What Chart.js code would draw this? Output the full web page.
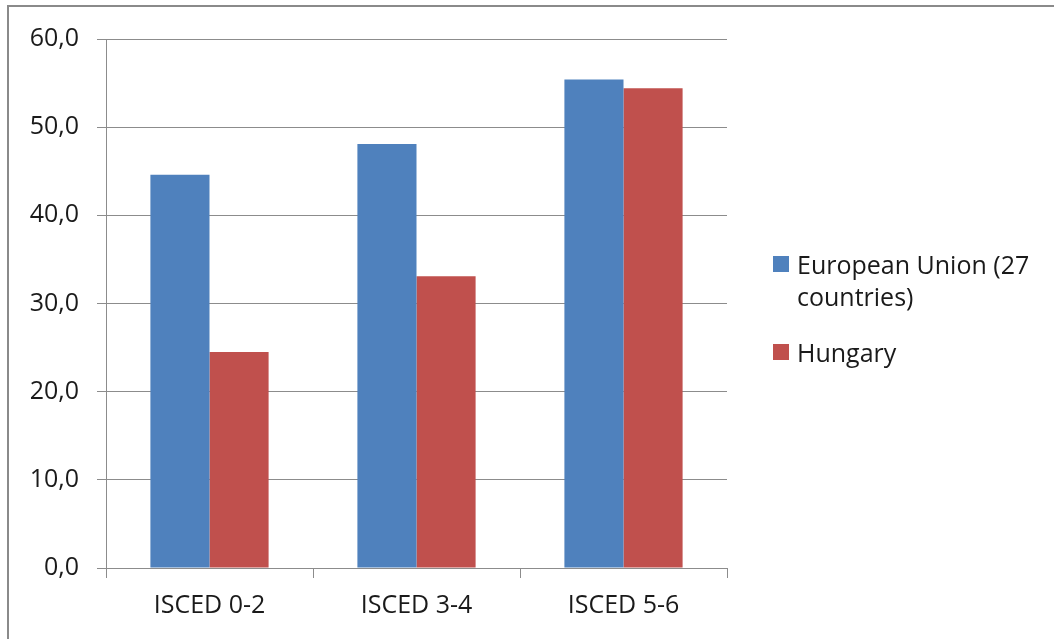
<!DOCTYPE html>
<html>
<head>
<meta charset="utf-8">
<script src="https://cdn.jsdelivr.net/npm/chart.js@4"></script>
<style>
  html, body { margin: 0; padding: 0; background: #fff; }
  #wrap { position: relative; width: 1054px; height: 639px; overflow: hidden; }
  #frame { position: absolute; left: 7px; top: 5px; width: 1060px; height: 650px;
           border-left: 2px solid #8a8a8a; border-top: 2px solid #8a8a8a; }
  canvas { position: absolute; left: 0; top: 0; }
  #legend { position: absolute; left: 773px; top: 248px; font-family: "Open Sans", sans-serif;
            font-size: 25px; line-height: 32px; color: #1a1a1a; }
  .item { position: relative; padding-left: 24px; width: 270px; }
  .item + .item { margin-top: 24px; }
  .swatch { position: absolute; left: 0; width: 16px; height: 16px; top: 8px; }
</style>
</head>
<body>
<div id="wrap">
  <div id="frame"></div>
  <canvas id="c" width="1054" height="639"></canvas>
  <div id="legend"></div>
</div>
<script>
// Employment rate by education level (ISCED groups)
const categories = ['ISCED 0-2', 'ISCED 3-4', 'ISCED 5-6'];
const euValues = [44.6, 48.1, 55.4];
const huValues = [24.5, 33.1, 54.4];
const seriesNames = [['European Union (27', 'countries)'], ['Hungary']];
const yTickLabels = ['0,0', '10,0', '20,0', '30,0', '40,0', '50,0', '60,0'];

const FONT = '"Open Sans", sans-serif';
const GRID = '#8c8c8c';
const TEXT = '#1a1a1a';

const chart = new Chart(document.getElementById('c'), {
  type: 'bar',
  data: {
    labels: categories,
    datasets: [
      { label: seriesNames[0].join(' '), data: euValues, backgroundColor: '#4f81bd' },
      { label: seriesNames[1].join(' '), data: huValues, backgroundColor: '#c0504d' }
    ]
  },
  options: {
    responsive: false,
    animation: false,
    layout: { padding: { top: 39, right: 327, bottom: 0, left: 0 } },
    datasets: { bar: { categoryPercentage: 0.571, barPercentage: 1.0 } },
    plugins: { legend: { display: false }, tooltip: { enabled: false } },
    scales: {
      x: {
        grid: { drawOnChartArea: false, drawTicks: true, tickLength: 10, color: GRID, lineWidth: 1 },
        border: { color: GRID, width: 1 },
        ticks: { font: { family: FONT, size: 25 }, color: TEXT, padding: 13 },
        afterFit(scale) { scale.height = 71; }
      },
      y: {
        min: 0, max: 60,
        grid: { color: GRID, lineWidth: 1, tickLength: 9 },
        border: { color: GRID, width: 1 },
        ticks: {
          stepSize: 10, font: { family: FONT, size: 25 }, color: TEXT, padding: 18,
          callback: (v, i) => yTickLabels[i]
        },
        afterFit(scale) { scale.width = 106; }
      }
    }
  }
});

// Legend built from the chart's datasets
const legend = document.getElementById('legend');
chart.data.datasets.forEach((ds, i) => {
  const item = document.createElement('div');
  item.className = 'item';
  const sw = document.createElement('span');
  sw.className = 'swatch';
  sw.style.background = ds.backgroundColor;
  item.appendChild(sw);
  seriesNames[i].forEach((line, j) => {
    if (j) item.appendChild(document.createElement('br'));
    item.appendChild(document.createTextNode(line));
  });
  legend.appendChild(item);
});
</script>
</body>
</html>
